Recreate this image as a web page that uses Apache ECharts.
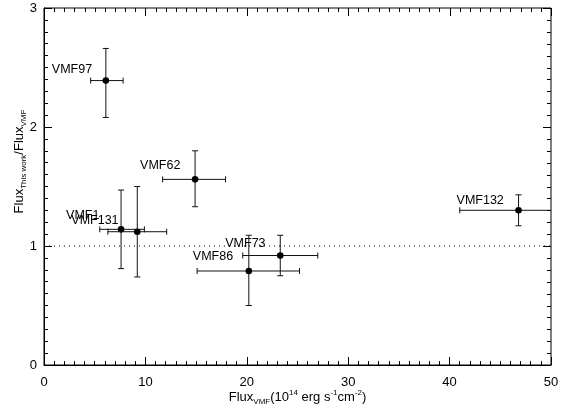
<!DOCTYPE html>
<html><head><meta charset="utf-8">
<script src="https://cdn.jsdelivr.net/npm/echarts@6/dist/echarts.min.js"></script>
<style>html,body{margin:0;padding:0;background:#fff}#c{width:563px;height:409px}</style>
</head><body><div id="c"></div>
<script>
// Data
const names  = ['VMF97','VMF62','VMF1','VMF131','VMF73','VMF86','VMF132'];
const fluxVMF = [6.1, 14.9, 7.6, 9.2, 23.3, 20.2, 46.8];
const fluxVMFLow = [4.6, 11.7, 5.5, 6.3, 19.6, 15.1, 41.0];
const fluxVMFHigh = [7.8, 17.9, 9.9, 12.1, 27.0, 25.2, 53.0];
const ratio = [2.39, 1.56, 1.14, 1.12, 0.92, 0.79, 1.30];
const ratioLow = [2.08, 1.33, 0.81, 0.74, 0.75, 0.50, 1.17];
const ratioHigh = [2.66, 1.80, 1.47, 1.50, 1.09, 1.09, 1.43];
const xTicks = [0, 10, 20, 30, 40, 50];
const yTicks = [0, 1, 2, 3];
const referenceRatio = 1;

// label placement (pixels, relative to point)
const labelOffsets = [[-54,-11],[-55,-14],[-55,-14],[-66,-11],[-55,-12],[-56,-14],[-62,-10]];

const rows = names.map((n,i)=>[fluxVMF[i], ratio[i], fluxVMFLow[i], fluxVMFHigh[i], ratioLow[i], ratioHigh[i], i]);

const chart = echarts.init(document.getElementById('c'));
const FONT = 'Liberation Sans, Arial, sans-serif';
const X_MAX = xTicks[xTicks.length-1], Y_MAX = yTicks[yTicks.length-1];
const X_MINOR = 10, Y_MINOR = 10;
function mkAxis(extra) {
  return Object.assign({
    type: 'value', min: 0,
    axisLine: {show: true, onZero: false, lineStyle: {color: '#000', width: 1}},
    axisTick: {show: true, inside: true, length: 8, lineStyle: {color: '#000', width: 1}},
    minorTick: {show: true, splitNumber: 10, length: 4, lineStyle: {color: '#000', width: 1}},
    splitLine: {show: false},
    axisLabel: {color: '#000', fontFamily: FONT, fontSize: 13}
  }, extra);
}
const option = {
  animation: false,
  backgroundColor: '#fff',
  grid: {left: 44, right: 12, top: 8, bottom: 44, outerBoundsMode: 'none', containLabel: false,
    show: true, borderColor: '#000', borderWidth: 1, backgroundColor: 'transparent'},
  xAxis: [
    mkAxis({max: X_MAX, interval: 10, position: 'bottom',
      axisLabel: {color: '#000', fontFamily: FONT, fontSize: 13, margin: 11, formatter: v => xTicks.includes(v) ? String(v) : ''},
      name: '{n|Flux}{s|VMF}{n|(10}{p|14}{n| erg s}{p|-1}{n|cm}{p|-2}{n|)}',
      nameLocation: 'middle', nameGap: 24, nameMoveOverlap: false,
      nameTextStyle: {rich: {
        n: {fontFamily: FONT, fontSize: 13, color: '#000'},
        s: {fontFamily: FONT, fontSize: 8, color: '#000', verticalAlign: 'bottom', padding: [9,0,0,0]},
        p: {fontFamily: FONT, fontSize: 8, color: '#000', verticalAlign: 'top', padding: [0,0,7,0]}
      }}})
  ],
  yAxis: [
    mkAxis({max: Y_MAX, interval: 1, position: 'left',
      axisLabel: {color: '#000', fontFamily: FONT, fontSize: 13, margin: 7, formatter: v => yTicks.includes(v) ? String(v) : ''},
      name: '{n|Flux}{s|This work}{n|/Flux}{s|VMF}',
      nameLocation: 'middle', nameGap: 16, nameRotate: 90, nameMoveOverlap: false,
      nameTextStyle: {padding: [0,0,0,50], rich: {
        n: {fontFamily: FONT, fontSize: 13, color: '#000'},
        s: {fontFamily: FONT, fontSize: 8, color: '#000', verticalAlign: 'bottom', padding: [9,0,0,0]}
      }}})
  ],
  series: [
    {
      type: 'line', data: [[0,referenceRatio],[X_MAX,referenceRatio]], symbol: 'none', silent: true,
      lineStyle: {color: '#000', width: 1, type: [1,4]}, z: 1
    },
    {
      type: 'custom', clip: true, data: rows,
      encode: {x: [0,2,3], y: [1,4,5]},
      renderItem: function(params, api) {
        const x = api.value(0), y = api.value(1);
        const c = api.coord([x, y]);
        const xl = api.coord([api.value(2), y]);
        const xh = api.coord([api.value(3), y]);
        const yl = api.coord([x, api.value(4)]);
        const yh = api.coord([x, api.value(5)]);
        const idx = api.value(6);
        const cap = 3;
        const st = {stroke: '#111', lineWidth: 1, fill: null};
        const off = labelOffsets[idx];
        return {
          type: 'group',
          children: [
            {type: 'line', shape: {x1: xl[0], y1: c[1], x2: xh[0], y2: c[1]}, style: st},
            {type: 'line', shape: {x1: xl[0], y1: c[1]-cap, x2: xl[0], y2: c[1]+cap}, style: st},
            {type: 'line', shape: {x1: xh[0], y1: c[1]-cap, x2: xh[0], y2: c[1]+cap}, style: st},
            {type: 'line', shape: {x1: c[0], y1: yl[1], x2: c[0], y2: yh[1]}, style: st},
            {type: 'line', shape: {x1: c[0]-cap, y1: yl[1], x2: c[0]+cap, y2: yl[1]}, style: st},
            {type: 'line', shape: {x1: c[0]-cap, y1: yh[1], x2: c[0]+cap, y2: yh[1]}, style: st},
            {type: 'circle', shape: {cx: c[0], cy: c[1], r: 3.3}, style: {fill: '#000'}},
            {type: 'text', x: c[0] + off[0], y: c[1] + off[1],
              style: {text: names[idx], fill: '#000', font: '12.5px ' + FONT, align: 'left', verticalAlign: 'middle'}}
          ]
        };
      },
      z: 5
    }
  ]
};
chart.setOption(option);

// mirrored ticks on the top and right frame edges, placed through the axis scales
const tickEls = [];
const toPx = p => chart.convertToPixel({xAxisIndex: 0, yAxisIndex: 0}, p);
const topY = toPx([0, Y_MAX])[1];
const rightX = toPx([X_MAX, 0])[0];
const addLine = (x1, y1, x2, y2) => tickEls.push({type: 'line', silent: true, z: 10,
  shape: {x1, y1, x2, y2}, style: {stroke: '#000', lineWidth: 1}});
for (let i = 0; i < xTicks.length - 1; i++) {
  const a = xTicks[i], b = xTicks[i+1];
  for (let k = 0; k <= X_MINOR; k++) {
    const v = a + (b - a) * k / X_MINOR;
    const px = Math.round(toPx([v, 0])[0]) + 0.5;
    addLine(px, topY, px, topY + ((k === 0 || k === X_MINOR) ? 8 : 4));
  }
}
for (let i = 0; i < yTicks.length - 1; i++) {
  const a = yTicks[i], b = yTicks[i+1];
  for (let k = 0; k <= Y_MINOR; k++) {
    const v = a + (b - a) * k / Y_MINOR;
    const py = Math.round(toPx([0, v])[1]) + 0.5;
    addLine(rightX, py, rightX - ((k === 0 || k === Y_MINOR) ? 8 : 4), py);
  }
}
chart.setOption({graphic: {elements: tickEls}});
</script>
</body></html>
